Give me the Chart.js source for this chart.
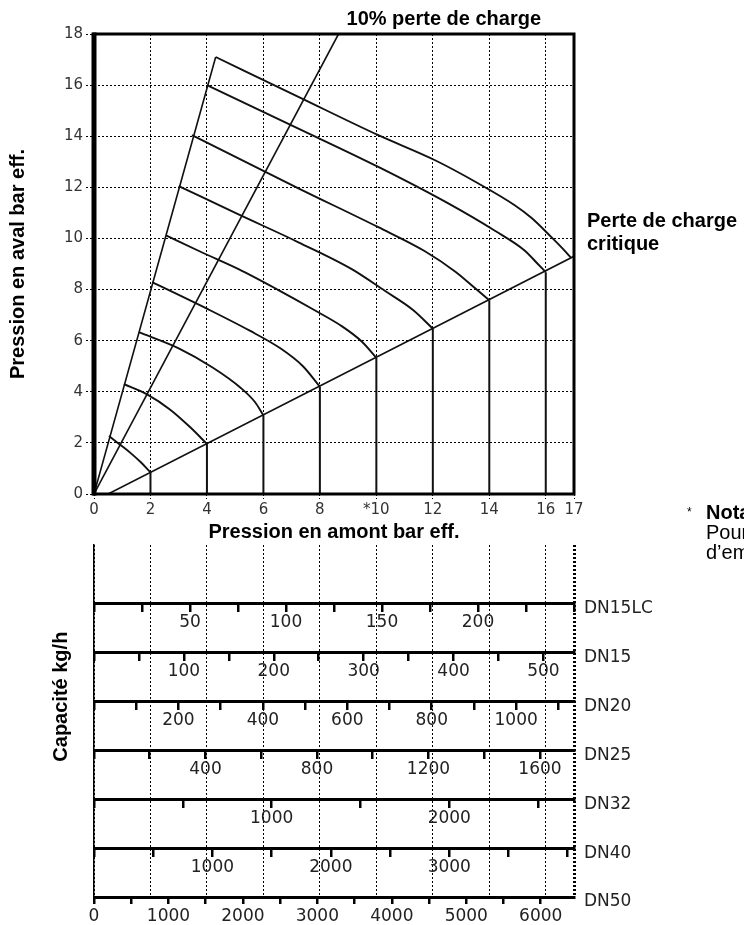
<!DOCTYPE html>
<html>
<head>
<meta charset="utf-8">
<script src="https://cdn.jsdelivr.net/npm/chart.js@4.4.1/dist/chart.umd.min.js"></script>
<style>
  html, body { margin: 0; padding: 0; background: #fff; }
  #wrap { position: relative; width: 744px; height: 925px; overflow: hidden; }
  canvas { position: absolute; left: 0; }
  #bottom { top: 525px; }
  #top { top: 0; }
</style>
</head>
<body>
<div id="wrap">
  <canvas id="bottom" width="744" height="400"></canvas>
  <canvas id="top" width="744" height="575"></canvas>
</div>
<script>
// --- abaque du haut : pression amont (x) / pression aval (y), bar eff.
const xTicksTop = [0, 2, 4, 6, 8, 10, 12, 14, 16, 17];
const xTickLabelsTop = ['0', '2', '4', '6', '8', '*10', '12', '14', '16', '17'];

const upstream = [2, 4, 6, 8, 10, 12, 14, 16, 17];
const criticalDown = [0.85, 1.96, 3.08, 4.2, 5.33, 6.47, 7.58, 8.68, 9.3];

const steepLine = [[0, 0], [4.31, 17.1]];
const lossLine10 = [[0, 0], [8.66, 18]];
const criticalLine = [[0.5, 0], [17, 9.3]];

const curveP2 = [[0.53, 2.27], [0.9, 1.95], [1.3, 1.6], [1.65, 1.25], [2, 0.85]];
const curveP4 = [[1.06, 4.3], [1.88, 3.9], [2.7, 3.3], [3.4, 2.62], [4, 1.96]];
const curveP6 = [[1.59, 6.33], [3.0, 5.7], [4.2, 4.95], [5.2, 4.15], [5.7, 3.6], [6, 3.08]];
const curveP8 = [[2.06, 8.29], [4.0, 7.25], [5.5, 6.4], [6.6, 5.7], [7.4, 5.0], [8, 4.2]];
const curveP10 = [[2.55, 10.12], [3.83, 9.45], [5.12, 8.8], [6.5, 8.0], [7.8, 7.2], [8.8, 6.55], [9.5, 5.95], [10, 5.33]];
const curveP12 = [[3.0, 12.05], [5.1, 10.95], [7.24, 9.85], [9.13, 8.8], [10.3, 7.95], [11.3, 7.2], [12, 6.47]];
const curveP14 = [[3.47, 14.04], [7.24, 11.96], [10.07, 10.44], [11.72, 9.5], [12.8, 8.7], [13.5, 8.05], [14, 7.58]];
const curveP16 = [[4.0, 16.0], [7.24, 14.3], [10.07, 12.8], [12.5, 11.4], [14.2, 10.3], [15.25, 9.53], [15.72, 9.0], [16, 8.68]];
const curveP17 = [[4.31, 17.1], [7.24, 15.54], [10.07, 14.04], [12.08, 13.06], [13.6, 12.16], [14.9, 11.3], [15.5, 10.8], [16.2, 10.05], [16.6, 9.6], [16.9, 9.24]];

const lossLabel = '10% perte de charge';
const criticalLabel = ['Perte de charge', 'critique'];

// --- règles de capacité (kg/h), de bas en haut
const dnNames = ['DN50', 'DN40', 'DN32', 'DN25', 'DN20', 'DN15', 'DN15LC'];
const dnMax = [6447, 4053, 2702, 1722, 1137, 534, 250];
const dnStep = [500, 500, 500, 200, 100, 50, 25];
const dn50Labels = [0, 1000, 2000, 3000, 4000, 5000, 6000];
const dn40Labels = [1000, 2000, 3000];
const dn32Labels = [1000, 2000];
const dn25Labels = [400, 800, 1200, 1600];
const dn20Labels = [200, 400, 600, 800, 1000];
const dn15Labels = [100, 200, 300, 400, 500];
const dn15lcLabels = [50, 100, 150, 200];
const dnLabels = [dn50Labels, dn40Labels, dn32Labels, dn25Labels, dn20Labels, dn15Labels, dn15lcLabels];
const capacityTitle = 'Capacité kg/h';

const tickFont = { family: 'DejaVu Sans', size: 15 };
const rulerFont = { family: 'DejaVu Sans', size: 17 };
const titleFont = { family: 'Liberation Sans', size: 20, weight: 'bold' };

const toXY = pts => pts.map(p => ({ x: p[0], y: p[1] }));
const lineDs = (pts, w) => ({
  data: toXY(pts), borderColor: '#111', borderWidth: w,
  pointRadius: 0, cubicInterpolationMode: 'monotone', fill: false
});

const verticals = [];
upstream.forEach((p, i) => {
  verticals.push({ x: p, y: 0 }, { x: p, y: criticalDown[i] }, { x: p, y: null });
});

const upperFrame = {
  id: 'upperFrame',
  afterDraw(chart) {
    const { ctx, chartArea: a, scales: { x, y } } = chart;
    ctx.save();
    ctx.strokeStyle = '#000';
    ctx.lineWidth = 3;
    ctx.strokeRect(a.left, a.top, a.right - a.left, a.bottom - a.top);
    ctx.lineWidth = 5;
    ctx.beginPath();
    ctx.moveTo(a.left, a.top - 1.5);
    ctx.lineTo(a.left, a.bottom + 1.5);
    ctx.stroke();

    ctx.fillStyle = '#000';
    ctx.textAlign = 'left';
    ctx.textBaseline = 'alphabetic';
    ctx.font = 'bold 20px "Liberation Sans", Arial, sans-serif';
    const topEnd = lossLine10[lossLine10.length - 1];
    ctx.fillText(lossLabel, x.getPixelForValue(topEnd[0]) + 8, a.top - 9);
    const critEnd = criticalLine[criticalLine.length - 1];
    const cy = y.getPixelForValue(critEnd[1]);
    ctx.fillText(criticalLabel[0], a.right + 13, cy - 29);
    ctx.fillText(criticalLabel[1], a.right + 13, cy - 6);

    // note, coupée par le bord droit
    ctx.font = '12px "Liberation Sans", Arial, sans-serif';
    ctx.fillText('*', a.right + 113, 516);
    ctx.font = 'bold 20px "Liberation Sans", Arial, sans-serif';
    ctx.fillText('Nota', a.right + 132, 519);
    ctx.font = '20px "Liberation Sans", Arial, sans-serif';
    ctx.fillText('Pour', a.right + 132, 539);
    ctx.fillText('d’em', a.right + 132, 559);
    ctx.restore();
  }
};

new Chart(document.getElementById('top'), {
  type: 'scatter',
  data: {
    datasets: [
      lineDs(steepLine, 1.6),
      lineDs(lossLine10, 1.6),
      lineDs(criticalLine, 1.6),
      lineDs(curveP2, 1.9),
      lineDs(curveP4, 1.9),
      lineDs(curveP6, 1.9),
      lineDs(curveP8, 1.9),
      lineDs(curveP10, 1.9),
      lineDs(curveP12, 1.9),
      lineDs(curveP14, 1.9),
      lineDs(curveP16, 1.9),
      lineDs(curveP17, 1.9),
      { data: verticals, borderColor: '#111', borderWidth: 2, pointRadius: 0, spanGaps: false }
    ].map(d => Object.assign({ showLine: true }, d))
  },
  options: {
    responsive: false,
    animation: false,
    layout: { padding: { top: 34, right: 170, left: 0, bottom: 0 } },
    plugins: { legend: { display: false }, tooltip: { enabled: false } },
    scales: {
      x: {
        type: 'linear', min: 0, max: 17,
        afterBuildTicks: s => { s.ticks = xTicksTop.map(v => ({ value: v })); },
        afterFit: s => { s.height = 81; },
        grid: { color: '#000', lineWidth: 1, tickLength: 5, tickColor: '#000', tickBorderDash: [2, 2] },
        border: { display: false, dash: [2, 2] },
        ticks: {
          autoSkip: false, maxRotation: 0, padding: 2, color: '#333', font: tickFont,
          callback: (v, i) => xTickLabelsTop[i]
        },
        title: { display: true, text: 'Pression en amont bar eff.', color: '#000', font: titleFont, padding: { top: 0, bottom: 31 } }
      },
      y: {
        type: 'linear', min: 0, max: 18,
        afterFit: s => { s.width = 94; },
        grid: { color: '#000', lineWidth: 1, tickLength: 8, tickColor: '#000', tickBorderDash: [2, 2] },
        border: { display: false, dash: [2, 2] },
        ticks: { stepSize: 2, padding: 3, color: '#333', font: tickFont },
        title: { display: true, text: 'Pression en aval bar eff.', color: '#000', font: titleFont, padding: { top: 6, bottom: 0 } }
      }
    }
  },
  plugins: [upperFrame]
});

// --- règles du bas
const lowerScales = {
  grid: {
    type: 'linear', position: 'top', min: 0, max: 17,
    afterBuildTicks: s => { s.ticks = xTicksTop.map(v => ({ value: v })); },
    afterFit: s => { s.height = 0; },
    ticks: { display: false },
    grid: { color: '#000', drawTicks: false, lineWidth: c => (c.tick && c.tick.value === 17 ? 3 : 1) },
    border: { display: false, dash: [2, 2] }
  },
  y: {
    type: 'linear', position: 'left', min: 0, max: 7.2,
    afterFit: s => { s.width = 94; },
    ticks: { display: false },
    grid: { display: false },
    border: { display: true, color: '#000', width: 1.5 }
  },
  yDn: {
    type: 'linear', position: 'right', min: 0, max: 7.2,
    afterBuildTicks: s => { s.ticks = dnNames.map((n, i) => ({ value: i })); },
    afterFit: s => { s.width = 170; },
    grid: { display: false, drawTicks: false },
    border: { display: false },
    ticks: { padding: 10, labelOffset: 5, color: '#222', font: rulerFont, callback: v => dnNames[v] }
  }
};

dnNames.forEach((name, i) => {
  const sc = {
    type: 'linear', axis: 'x',
    position: i === 0 ? 'bottom' : { y: i },
    min: 0, max: dnMax[i],
    afterBuildTicks: s => {
      const t = [];
      for (let v = 0; v <= dnMax[i]; v += dnStep[i]) t.push({ value: v });
      s.ticks = t;
    },
    grid: { drawOnChartArea: false, tickLength: 7, lineWidth: 2.5, color: '#000' },
    border: { display: true, width: 3, color: '#000' },
    ticks: {
      autoSkip: false, maxRotation: 0, padding: 2, color: '#222', font: rulerFont,
      callback: v => (dnLabels[i].includes(v) ? String(v) : '')
    }
  };
  if (i === 0) sc.afterFit = s => { s.height = 28; };
  lowerScales['dn' + i] = sc;
});

const lowerTitle = {
  id: 'lowerTitle',
  afterDraw(chart) {
    const { ctx, scales: { y } } = chart;
    ctx.save();
    ctx.translate(61, y.getPixelForValue(4.1));
    ctx.rotate(-Math.PI / 2);
    ctx.font = 'bold 20px "Liberation Sans", Arial, sans-serif';
    ctx.textAlign = 'center';
    ctx.textBaseline = 'middle';
    ctx.fillStyle = '#000';
    ctx.fillText(capacityTitle, 0, 0);
    ctx.restore();
  }
};

new Chart(document.getElementById('bottom'), {
  type: 'scatter',
  data: { datasets: [] },
  options: {
    responsive: false,
    animation: false,
    layout: { padding: { top: 12, right: 0, left: 0, bottom: 0 } },
    plugins: { legend: { display: false }, tooltip: { enabled: false } },
    scales: lowerScales
  },
  plugins: [lowerTitle]
});
</script>
</body>
</html>
